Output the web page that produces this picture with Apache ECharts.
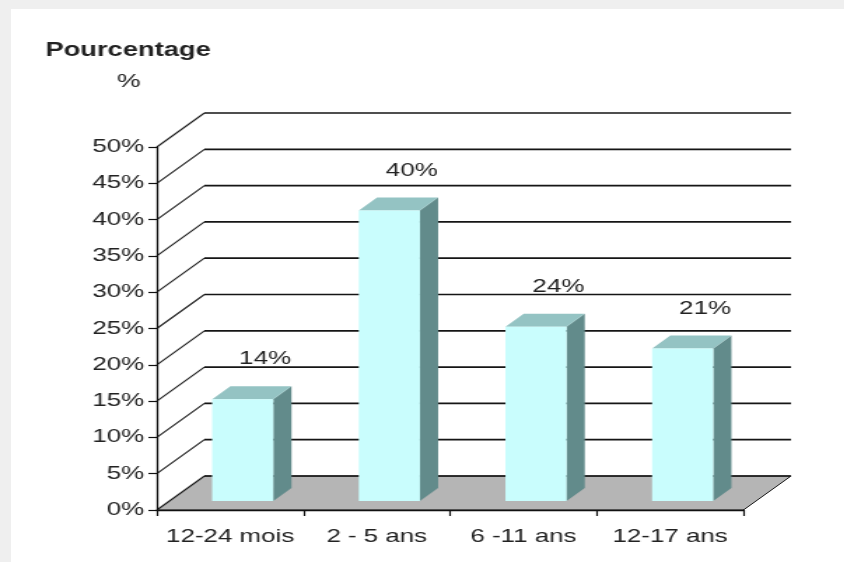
<!DOCTYPE html>
<html>
<head>
<meta charset="utf-8">
<script src="https://cdn.jsdelivr.net/npm/echarts@6/dist/echarts.min.js"></script>
<style>
  html, body { margin: 0; padding: 0; width: 844px; height: 562px; overflow: hidden; background: #efefef; }
  #panel { position: absolute; left: 11px; top: 9px; right: 0; bottom: 0; background: #ffffff; }
  /* the chart is laid out at 603px and widened to the full page */
  #chart { position: absolute; left: 0; top: 0; width: 603px; height: 562px; transform: scaleX(1.4); transform-origin: 0 0; }
</style>
</head>
<body>
<div id="panel"></div>
<div id="chart"></div>
<script>
// Age groups and share of each group (%)
const categories = ['12-24 mois', '2 - 5 ans', '6 -11 ans', '12-17 ans'];
const shares = [14, 40, 24, 21];
const percentTicks = [0, 5, 10, 15, 20, 25, 30, 35, 40, 45, 50];

const FONT = '"Liberation Sans", Arial, Helvetica, sans-serif';
const TEXT = '#222222';
const WALL = 34;       // depth of the back wall, px
const BAR_FRONT = 9;   // gap between front plane and bar face, px
const BAR_DEPTH = 13;  // thickness of each column, px

const chart = echarts.init(document.getElementById('chart'));

// Floor, left wall diagonals and back-wall grid lines
function renderWall(params, api) {
  const cs = params.coordSys;
  const t = api.value(1);
  const y = api.coord([0, t])[1];
  const x0 = cs.x, x1 = cs.x + cs.width;
  const children = [];
  if (t === 0) {
    children.push({
      type: 'polygon',
      shape: { points: [[x0, y], [x1, y], [x1 + WALL, y - WALL], [x0 + WALL, y - WALL]] },
      style: { fill: '#b5b5b5', stroke: '#1a1a1a', lineWidth: 1 }
    });
  }
  children.push({
    type: 'line',
    shape: { x1: x0, y1: y, x2: x0 + WALL, y2: y - WALL },
    style: { stroke: '#1a1a1a', lineWidth: 1.1 }
  });
  children.push({
    type: 'line',
    shape: { x1: x0 + WALL, y1: y - WALL, x2: x1 + WALL, y2: y - WALL },
    style: { stroke: '#151515', lineWidth: 1.7 }
  });
  return { type: 'group', children: children };
}

// Columns drawn as boxes: side, top, front face and value label
function renderBar(params, api) {
  const i = api.value(0);
  const v = api.value(1);
  const base = api.coord([i, 0]);
  const top = api.coord([i, v]);
  const w = api.size([1, 0])[0] * 0.417;
  const d = BAR_DEPTH;
  const L = base[0] - w / 2 + BAR_FRONT;
  const R = L + w;
  const B = base[1] - BAR_FRONT;
  const T = top[1] - BAR_FRONT;
  return {
    type: 'group',
    children: [
      { type: 'polygon', shape: { points: [[R, T], [R + d, T - d], [R + d, B - d], [R, B]] }, style: { fill: '#628b8b' } },
      { type: 'polygon', shape: { points: [[L, T], [R, T], [R + d, T - d], [L + d, T - d]] }, style: { fill: '#94c3c3' } },
      { type: 'rect', shape: { x: L, y: T, width: w, height: B - T }, style: { fill: '#c9fdfd' } },
      {
        type: 'text',
        style: {
          text: v + '%', x: (L + R) / 2 + 16, y: T - d - 27,
          align: 'center', verticalAlign: 'middle',
          fontSize: 18.5, fontFamily: FONT, fill: TEXT
        }
      }
    ]
  };
}

chart.setOption({
  animation: false,
  backgroundColor: 'transparent',
  grid: { left: 112, top: 147, width: 419, height: 363, containLabel: false },
  graphic: [
    {
      type: 'text', x: 91.5, y: 51,
      style: { text: 'Pourcentage', align: 'center', verticalAlign: 'middle',
               fontSize: 19.5, fontWeight: 'bold', fontFamily: FONT, fill: TEXT }
    },
    {
      type: 'text', x: 92, y: 82,
      style: { text: '%', align: 'center', verticalAlign: 'middle',
               fontSize: 19, fontFamily: FONT, fill: TEXT }
    }
  ],
  xAxis: {
    type: 'category',
    data: categories,
    z: 10,
    axisLine: { show: true, lineStyle: { color: '#111111', width: 1.3 } },
    axisTick: { show: true, length: 6, lineStyle: { color: '#111111', width: 1.2 } },
    axisLabel: { interval: 0, margin: 17, fontSize: 18.5, fontFamily: FONT, color: TEXT },
    splitLine: { show: false }
  },
  yAxis: {
    type: 'value',
    min: 0, max: 50, interval: 5,
    z: 10,
    axisLine: { show: true, lineStyle: { color: '#111111', width: 1.3 } },
    axisTick: { show: true, length: 6, lineStyle: { color: '#111111', width: 1.2 } },
    axisLabel: { margin: 9, fontSize: 18.5, fontFamily: FONT, color: TEXT, formatter: v => v + '%' },
    splitLine: { show: false }
  },
  series: [
    {
      type: 'custom',
      name: 'walls',
      z: 1,
      silent: true,
      renderItem: renderWall,
      data: percentTicks.map(t => [0, t])
    },
    {
      type: 'custom',
      name: 'Pourcentage',
      z: 2,
      renderItem: renderBar,
      data: shares.map((v, i) => [i, v])
    }
  ]
});
</script>
</body>
</html>
